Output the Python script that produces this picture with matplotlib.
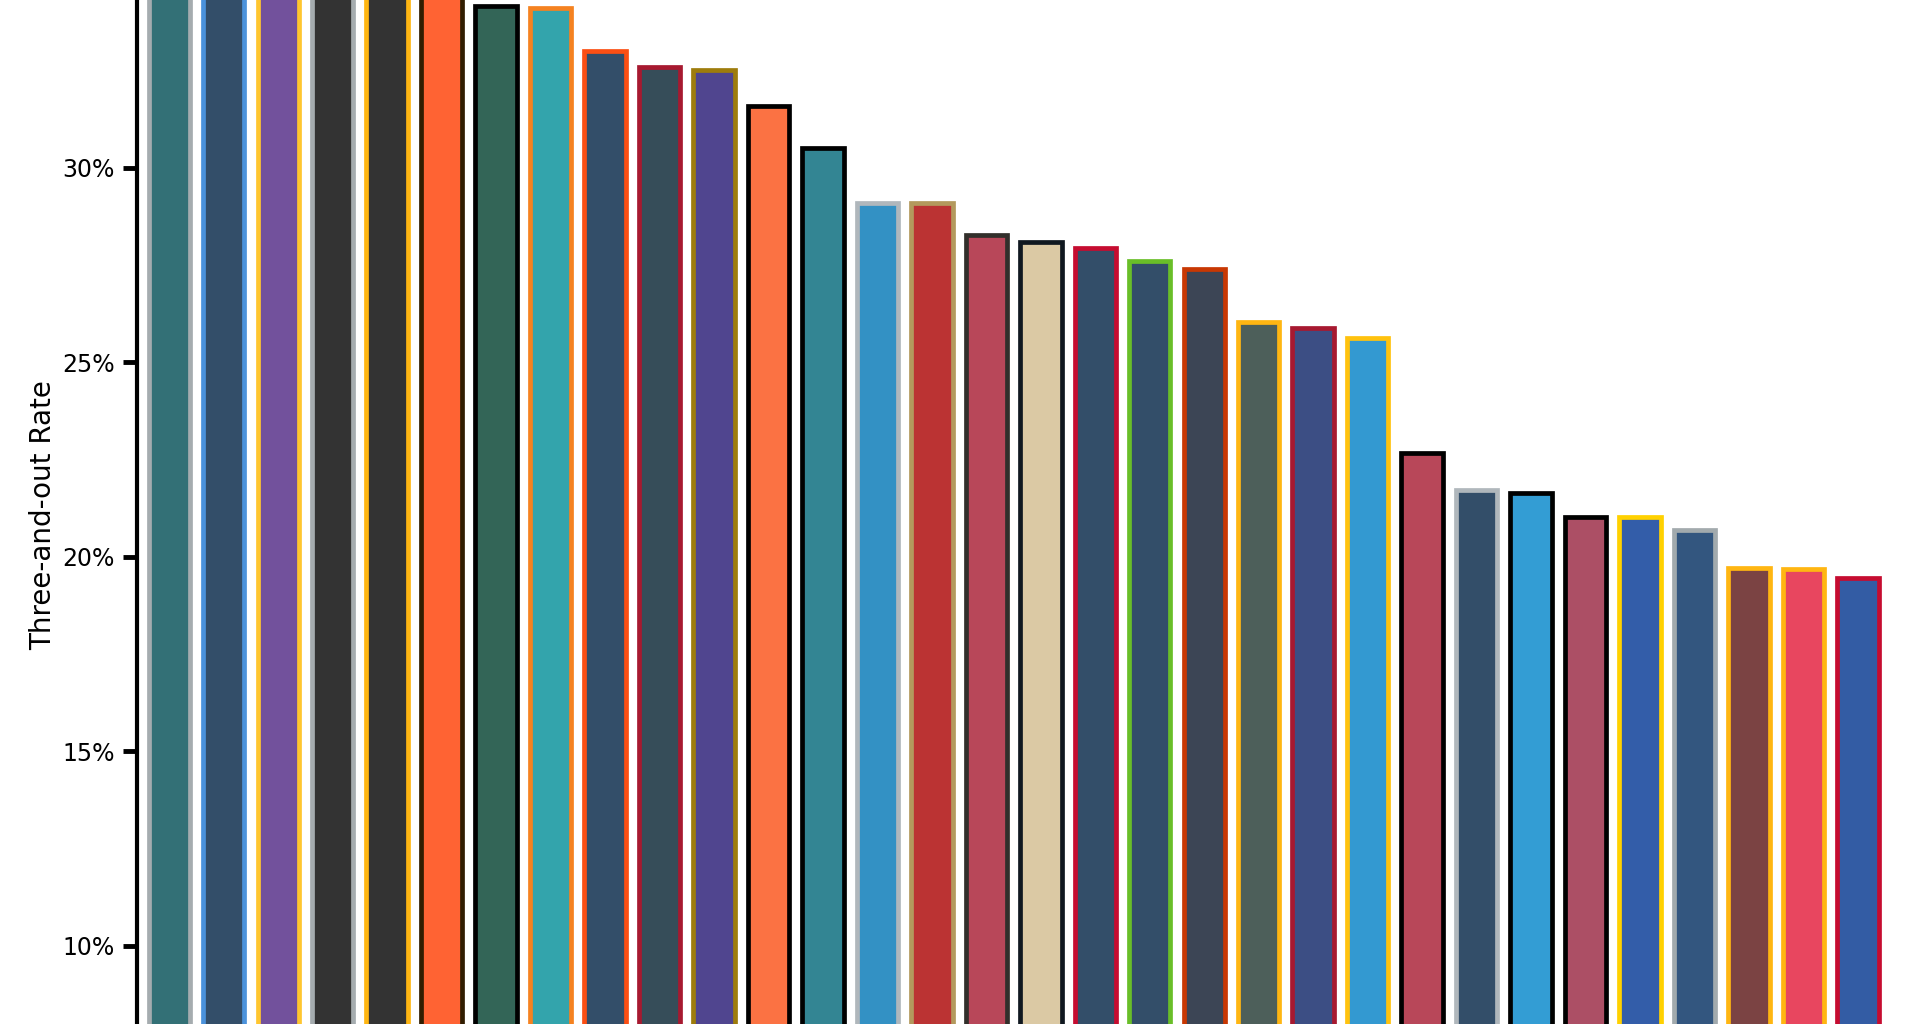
import matplotlib
matplotlib.use("Agg")
import matplotlib.pyplot as plt
from matplotlib.ticker import FuncFormatter

# Teams ordered by three-and-out rate (descending)
teams = ["PHI", "TEN", "MIN", "LV", "PIT", "CLE", "NYJ", "MIA", "DEN", "HOU",
         "BAL", "CIN", "JAX", "DET", "SF", "TB", "NO", "NE", "SEA", "CHI",
         "GB", "NYG", "LAC", "ATL", "DAL", "CAR", "ARI", "LA", "IND", "WAS",
         "KC", "BUF"]

# Three-and-out rate (%) - first six bars extend beyond the visible area
rates = [38.5, 37.8, 37.0, 36.3, 35.5, 34.6, 34.15, 34.1, 33.0, 32.58,
         32.52, 31.58, 30.5, 29.1, 29.1, 28.27, 28.1, 27.93, 27.6, 27.41,
         26.03, 25.87, 25.62, 22.66, 21.72, 21.65, 21.02, 21.03, 20.68, 19.7,
         19.68, 19.45]

fill_colors = ["#004C54", "#002244", "#4F2683", "#000000", "#000000", "#FF3C00",
               "#003F2D", "#008E97", "#002244", "#03202F", "#241773", "#FB4F14",
               "#006778", "#0076B6", "#AA0000", "#A71930", "#D3BC8D", "#002244",
               "#002244", "#0B162A", "#203731", "#0B2265", "#0080C6", "#A71930",
               "#002244", "#0085CA", "#97233F", "#003594", "#002C5F", "#5A1414",
               "#E31837", "#00338D"]

edge_colors = ["#A5ACAF", "#4B92DB", "#FFC62F", "#A5ACAF", "#FFB612", "#311D00",
               "#000000", "#F58220", "#FB4F14", "#A71930", "#9E7C0C", "#000000",
               "#000000", "#B0B7BC", "#B3995D", "#322F2B", "#101820", "#C60C30",
               "#69BE28", "#C83803", "#FFB612", "#A71930", "#FFC20E", "#000000",
               "#B0B7BC", "#000000", "#000000", "#FFD100", "#A2AAAD", "#FFB612",
               "#FFB612", "#C60C30"]

y_label = "Three-and-out Rate"
y_ticks = [10, 15, 20, 25, 30]

fig = plt.figure(figsize=(19.2, 10.24), dpi=100)
ax = fig.add_axes([137 / 1920, 0.0, 1 - 137 / 1920, 1.0])

x = list(range(len(teams)))
bars = ax.bar(x, rates, width=0.76, linewidth=3.4, zorder=2)
for b, fc, ec in zip(bars, fill_colors, edge_colors):
    b.set_facecolor(matplotlib.colors.to_rgba(fc, 0.8))
    b.set_edgecolor(ec)

ax.set_xlim(-0.593, 32.14)
ax.set_ylim(7.984, 34.315)
ax.set_yticks(y_ticks)
ax.yaxis.set_major_formatter(FuncFormatter(lambda v, p: f"{v:.0f}%"))
ax.set_xticks([])

for s in ["top", "right", "bottom"]:
    ax.spines[s].set_visible(False)
ax.spines["left"].set_linewidth(3)
ax.spines["left"].set_color("black")

ax.tick_params(axis="y", direction="out", length=10, width=3.5, pad=6,
               labelsize=17, colors="black")
ax.set_ylabel(y_label, fontsize=20)
ax.yaxis.set_label_coords(-0.045, 0.497)

fig.savefig("out.png", dpi=100, facecolor="white")
